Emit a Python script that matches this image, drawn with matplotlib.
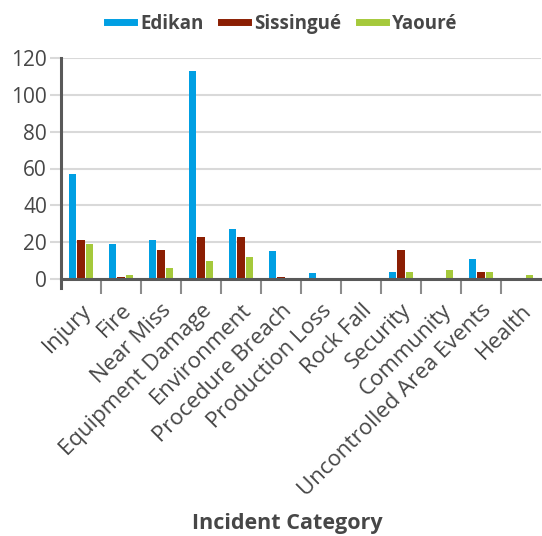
import numpy as np
import matplotlib
matplotlib.use('Agg')
from matplotlib import pyplot as plt
from matplotlib.lines import Line2D
import matplotlib.transforms as mtransforms

plt.rcParams['font.family'] = ['Open Sans', 'DejaVu Sans']

categorias = ['Injury', 'Fire', 'Near Miss', 'Equipment Damage', 'Environment',
              'Procedure Breach', 'Production Loss', 'Rock Fall', 'Security',
              'Community', 'Uncontrolled Area Events', 'Health']
edikan     = [57, 19, 21, 113, 27, 15, 3, 0, 4, 0, 11, 0]
sissingue  = [21, 1, 16, 23, 23, 1, 0, 0, 16, 0, 4, 0]
yaoure     = [19, 2, 6, 10, 12, 0, 0, 0, 4, 5, 4, 2]
series = ['Edikan', 'Sissingué', 'Yaouré']
colores = ['#009fe3', '#8b1e03', '#a5c93b']
ticks_y = [0, 20, 40, 60, 80, 100, 120]

texto = '#474747'

fig = plt.figure(figsize=(5.42, 5.36), dpi=100)
ax = fig.add_axes([61/542, 1-279/536, 480/542, 221/536])

x = np.arange(len(categorias))
ancho = 0.18
paso = 0.22
for k, (datos, col) in enumerate(zip([edikan, sissingue, yaoure], colores)):
    ax.bar(x + (k-1)*paso, datos, width=ancho, color=col, zorder=3)

ax.set_xlim(-0.5, len(categorias)-0.5)
ax.set_ylim(0, 120)
ax.set_yticks(ticks_y)
ax.set_yticklabels([str(t) for t in ticks_y], fontsize=15, color=texto)
ax.yaxis.grid(True, color='#d9d9d9', linewidth=1.5, zorder=0)
ax.tick_params(axis='y', length=8, width=1.5, color='#d9d9d9', pad=2)

# etiquetas de categoria giradas 45 grados
ax.set_xticks(x)
ax.set_xticklabels(categorias, rotation=45, ha='right', va='top',
                   rotation_mode='anchor', fontsize=16, color=texto)
desplaz = mtransforms.ScaledTranslation(13/100, 0, fig.dpi_scale_trans)
for lab in ax.get_xticklabels():
    lab.set_transform(lab.get_transform() + desplaz)
ax.tick_params(axis='x', which='major', length=0, pad=15)
ax.set_xticks(x[:-1] + 0.5, minor=True)
ax.tick_params(axis='x', which='minor', length=11, width=1.5, color='#8c8c8c')

for lado in ['top', 'right']:
    ax.spines[lado].set_visible(False)
ax.spines['bottom'].set_color('#595959')
ax.spines['bottom'].set_linewidth(2.2)
ax.spines['bottom'].set_zorder(4)
ax.spines['left'].set_color('#595959')
ax.spines['left'].set_linewidth(2.2)
ax.spines['left'].set_bounds(-5, 120)

fig.text(287/542, 1-523/536, 'Incident Category', ha='center', va='center',
         fontsize=15.5, fontweight='bold', color=texto)

manejadores = [Line2D([0], [0], color=c, linewidth=5) for c in colores]
fig.legend(manejadores, series, loc='center', bbox_to_anchor=(282/542, 1-24/536),
           ncol=3, frameon=False, handlelength=1.45, handletextpad=0.3,
           columnspacing=0.95, prop={'weight': 'bold', 'size': 13.5},
           labelcolor=texto)

fig.savefig('out.png', dpi=100)
